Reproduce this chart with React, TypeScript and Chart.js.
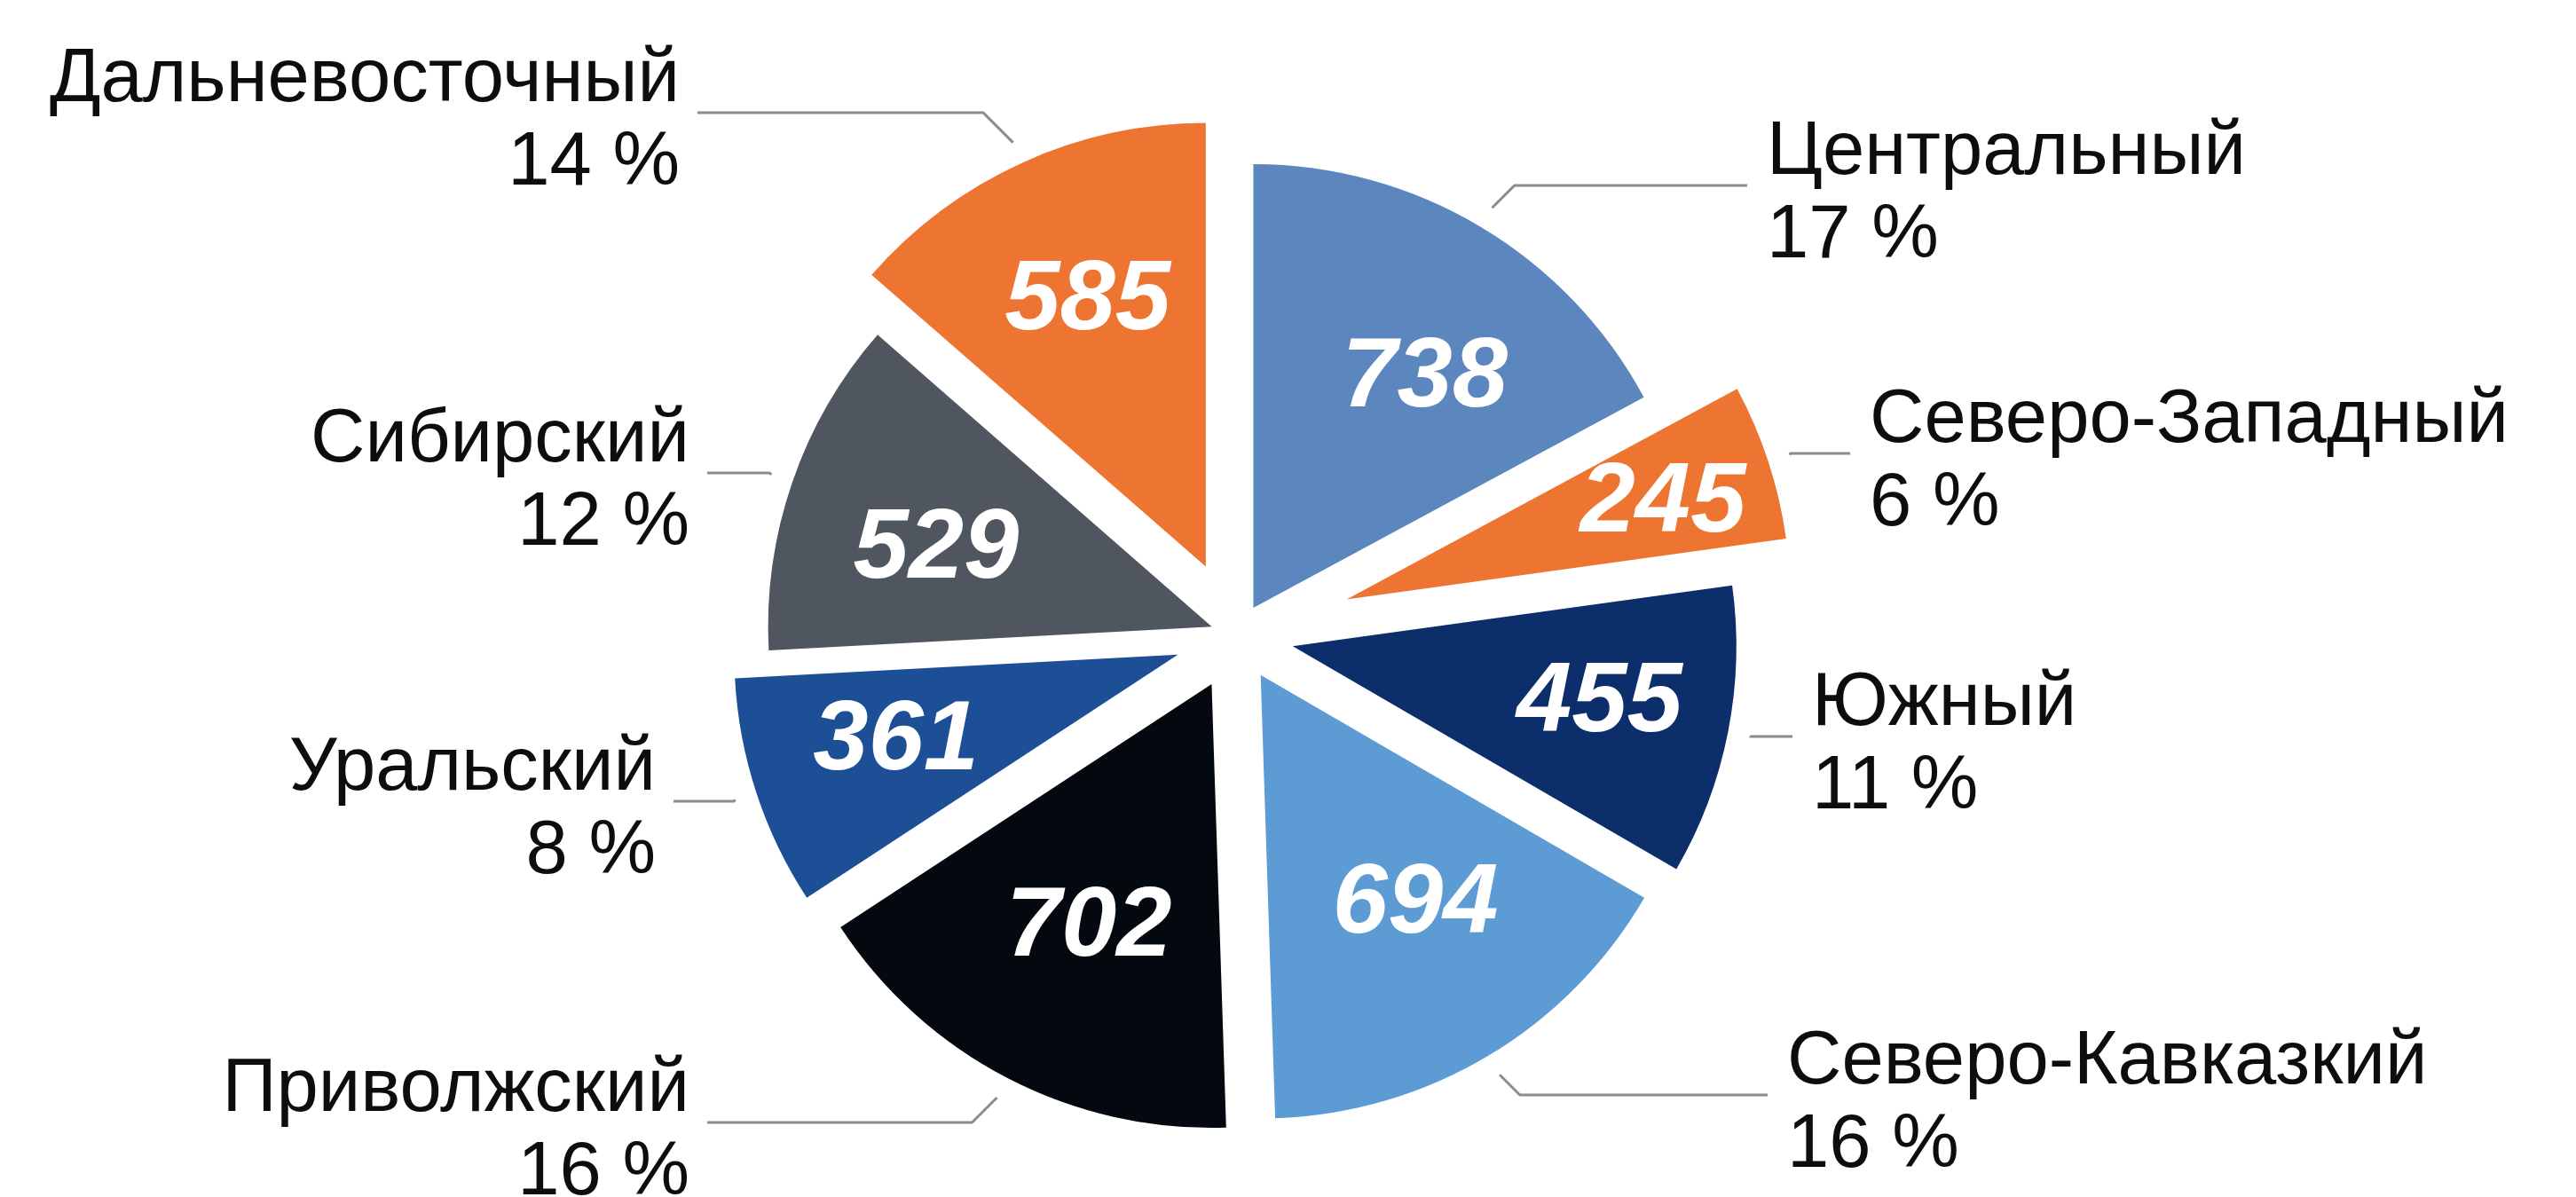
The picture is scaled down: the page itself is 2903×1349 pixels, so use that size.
import React, { useEffect, useRef } from "react";
import { Chart, registerables } from "chart.js";

Chart.register(...registerables);

// ---- data ----
const REGIONS = [
  "Центральный",
  "Северо-Западный",
  "Южный",
  "Северо-Кавказкий",
  "Приволжский",
  "Уральский",
  "Сибирский",
  "Дальневосточный",
];
const VALUES = [738, 245, 455, 694, 702, 361, 529, 585];

// ---- styles / layout ----
const COLORS = ["#5b86be", "#ed7431", "#0c2e6b", "#5d9bd4", "#04080f", "#1d4f97", "#50565f", "#ed7431"];
const EXPLODE = [36, 130, 64, 52, 62, 70, 30, 85]; // px each slice is pulled out
const RADIUS = 500;
// value label: [fraction of radius, angle tweak in degrees]
const NUM_POS: [number, number][] = [
  [0.66, 5], [0.75, 0], [0.7, -2], [0.61, -4], [0.6, 0], [0.66, 2.5], [0.65, -2], [0.67, 1],
];
// leader-line end point relative to pie centre [dx, dy]
const LABEL_ANCHOR: [number, number][] = [
  [575, -507], [691, -205], [626, 114], [598, 518], [-597, 549], [-635, 187], [-597, -183], [-608, -589],
];

const TOTAL = VALUES.reduce((a, b) => a + b, 0);

const explodePlugin = {
  id: "explode",
  afterDatasetsUpdate(chart: any) {
    const meta = chart.getDatasetMeta(0);
    meta.data.forEach((arc: any, i: number) => {
      const mid = (arc.startAngle + arc.endAngle) / 2;
      arc.x += Math.cos(mid) * EXPLODE[i];
      arc.y += Math.sin(mid) * EXPLODE[i];
    });
  },
};

const labelsPlugin = {
  id: "sliceLabels",
  afterDatasetsDraw(chart: any) {
    const ctx: CanvasRenderingContext2D = chart.ctx;
    const area = chart.chartArea;
    const cx = (area.left + area.right) / 2;
    const cy = (area.top + area.bottom) / 2;
    const meta = chart.getDatasetMeta(0);
    ctx.save();
    meta.data.forEach((arc: any, i: number) => {
      const mid = (arc.startAngle + arc.endAngle) / 2;
      const r = arc.outerRadius;
      // value numbers
      const [frac, tweak] = NUM_POS[i];
      const a = mid + (tweak * Math.PI) / 180;
      const nx = arc.x + Math.cos(a) * r * frac;
      const ny = arc.y + Math.sin(a) * r * frac;
      ctx.font = 'italic bold 112px "Liberation Sans", Arial, sans-serif';
      ctx.fillStyle = "#ffffff";
      ctx.textAlign = "center";
      ctx.textBaseline = "alphabetic";
      ctx.fillText(String(VALUES[i]), nx, ny + 40);

      // leader line
      const [dx, dy] = LABEL_ANCHOR[i];
      const side = dx > 0 ? 1 : -1;
      const sx = arc.x + Math.cos(mid) * (r + 25);
      const sy = arc.y + Math.sin(mid) * (r + 25);
      const ly = cy + dy;
      const ex = cx + dx;
      const elbowX = sx + side * Math.abs(ly - sy);
      ctx.strokeStyle = "#8c8c8c";
      ctx.lineWidth = 3;
      ctx.beginPath();
      ctx.moveTo(sx, sy);
      ctx.lineTo(elbowX, ly);
      ctx.lineTo(ex, ly);
      ctx.stroke();

      // category label
      const pct = Math.round((VALUES[i] / TOTAL) * 100) + " %";
      ctx.font = '85px "Liberation Sans", Arial, sans-serif';
      ctx.fillStyle = "#0d0d0d";
      ctx.textAlign = side > 0 ? "left" : "right";
      const tx = side > 0 ? ex + 22 : ex - 20;
      ctx.fillText(REGIONS[i], tx, ly - 13);
      ctx.fillText(pct, tx, ly + 81);
    });
    ctx.restore();
  },
};

export default function App() {
  const ref = useRef<HTMLCanvasElement>(null);
  useEffect(() => {
    if (!ref.current) return;
    const chart = new Chart(ref.current, {
      type: "pie",
      data: {
        labels: REGIONS,
        datasets: [
          {
            data: VALUES,
            backgroundColor: COLORS,
            borderWidth: 0,
          },
        ],
      },
      options: {
        responsive: false,
        devicePixelRatio: 1,
        animation: false,
        events: [],
        radius: RADIUS,
        layout: { padding: { left: 0, right: 115, top: 83, bottom: 0 } },
        plugins: { legend: { display: false }, tooltip: { enabled: false } },
      } as any,
      plugins: [explodePlugin, labelsPlugin],
    });
    return () => chart.destroy();
  }, []);
  return (
    <div style={{ position: "absolute", left: 0, top: 0, width: 2903, height: 1349, background: "#fff" }}>
      <canvas ref={ref} width={2903} height={1349} style={{ display: "block" }} />
    </div>
  );
}
